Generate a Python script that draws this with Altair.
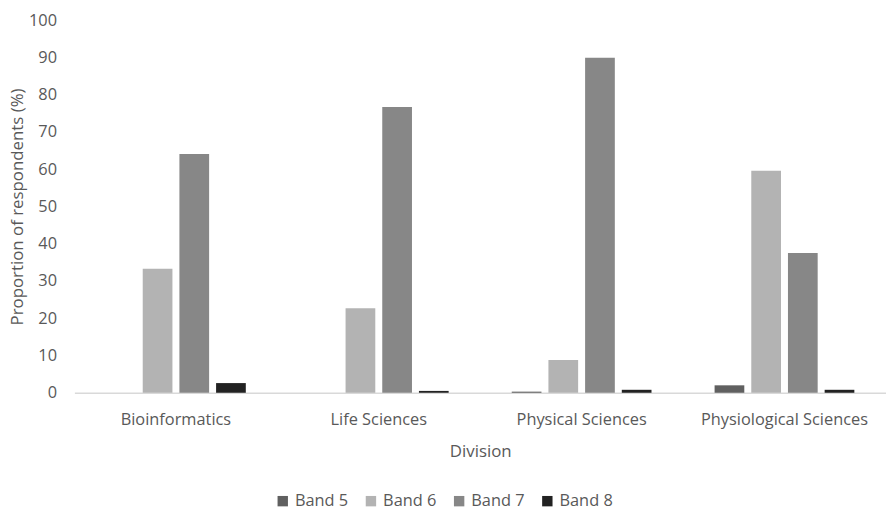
import altair as alt
import pandas as pd

divisions = ["Bioinformatics", "Life Sciences", "Physical Sciences", "Physiological Sciences"]
bands = ["Band 5", "Band 6", "Band 7", "Band 8"]
band5 = [0.0, 0.0, 0.3, 2.0]
band6 = [33.3, 22.7, 8.8, 59.6]
band7 = [64.1, 76.7, 89.9, 37.5]
band8 = [2.6, 0.5, 0.8, 0.8]
colors = ["#606060", "#b3b3b3", "#878787", "#222222"]

rows = []
for series, vals in zip(bands, [band5, band6, band7, band8]):
    for d, v in zip(divisions, vals):
        rows.append({"Division": d, "Band": series, "Value": v})
df = pd.DataFrame(rows)

FONT = "Open Sans"
TXT = "#595959"

chart = alt.Chart(df).mark_bar().encode(
    x=alt.X("Division:N", sort=divisions,
            scale=alt.Scale(paddingInner=0.311, paddingOuter=0.156),
            axis=alt.Axis(title="Division", labelAngle=0, ticks=False,
                          domainColor="#d9d9d9", domainWidth=1.5,
                          labelPadding=19, titlePadding=16)),
    xOffset=alt.XOffset("Band:N", sort=bands,
                        scale=alt.Scale(paddingInner=0.19, paddingOuter=0)),
    y=alt.Y("Value:Q", scale=alt.Scale(domain=[0, 100], nice=False),
            axis=alt.Axis(title="Proportion of respondents (%)", values=list(range(0, 101, 10)),
                          grid=False, domain=False, ticks=False, labelPadding=18,
                          titlePadding=2)),
    color=alt.Color("Band:N", sort=bands,
                    scale=alt.Scale(domain=bands, range=colors),
                    legend=alt.Legend(title=None, orient="none", direction="horizontal",
                                      legendX=202, legendY=477, symbolType="square",
                                      symbolSize=110, symbolStrokeWidth=0,
                                      columnPadding=14, labelFontSize=16.5,
                                      labelColor=TXT, labelFont=FONT)),
).properties(
    width=819, height=376,
    autosize=alt.AutoSizeParams(type="none"),
    padding={"left": 67, "top": 10, "right": 0, "bottom": 114},
).configure_view(stroke=None).configure_axis(
    labelFont=FONT, titleFont=FONT, labelFontSize=16.5, titleFontSize=17,
    labelColor=TXT, titleColor=TXT, titleFontWeight="normal",
)

chart.save("out.html", embed_options={"renderer": "svg", "actions": False})
